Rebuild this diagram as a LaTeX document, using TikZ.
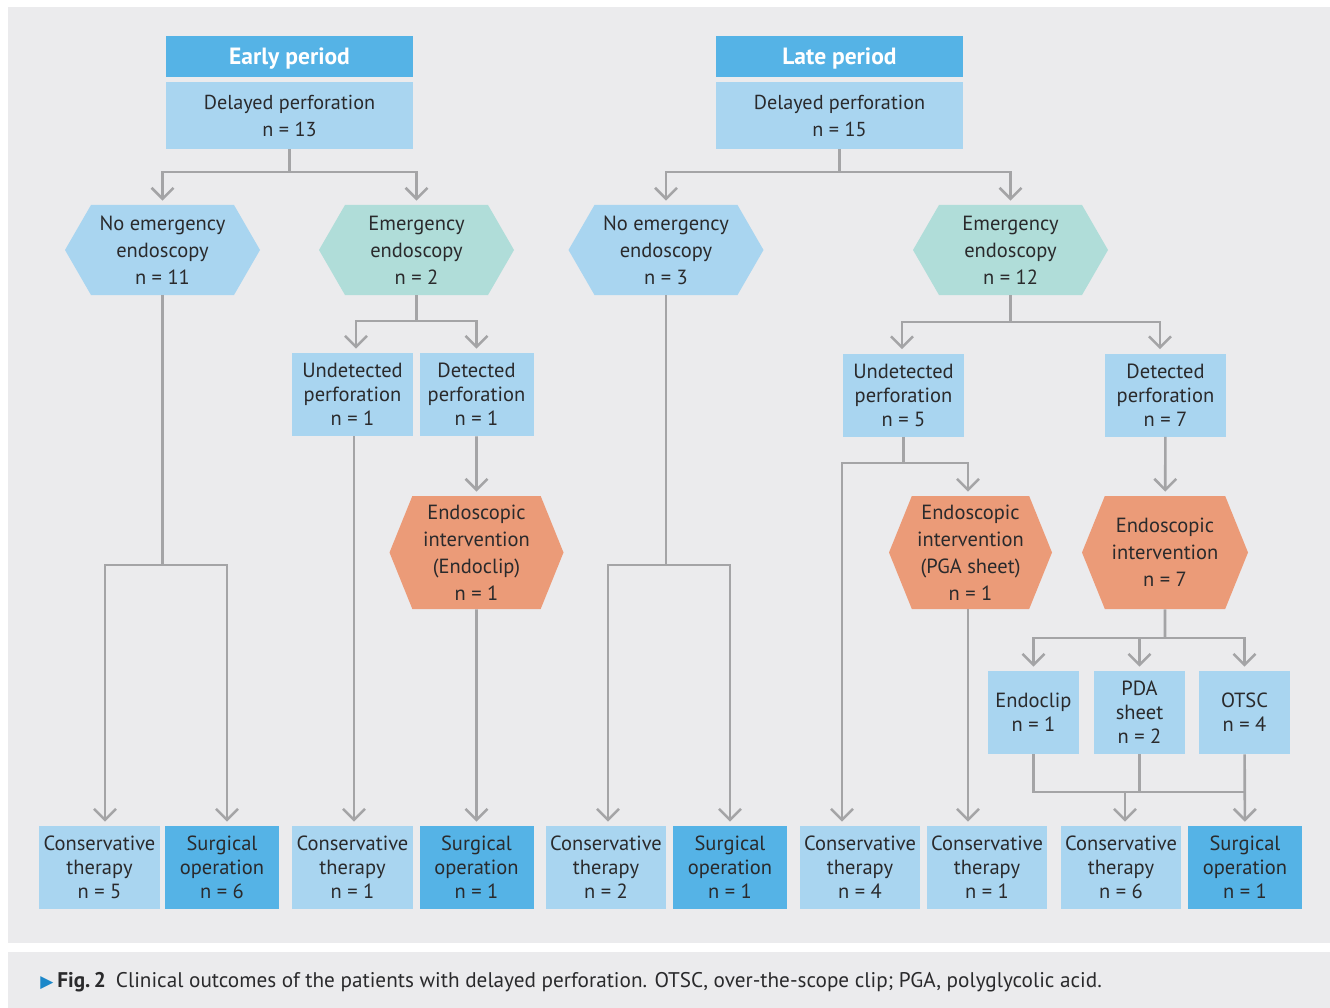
\documentclass[tikz,border=0pt]{standalone}
\usepackage{fontspec}
\setmainfont{PT Sans}
\newfontfamily\symfont{DejaVu Sans}
\usepackage{xcolor}
\usetikzlibrary{arrows.meta}
\usetikzlibrary{positioning}
\usetikzlibrary{shapes.symbols}

\definecolor{panelgrey}{HTML}{EBEBED}
\definecolor{hdrblue}{HTML}{55B3E6}
\definecolor{boxblue}{HTML}{A9D5F0}
\definecolor{hexgreen}{HTML}{B0DDD9}
\definecolor{hexorange}{HTML}{EB9B78}
\definecolor{linegrey}{HTML}{A4A4A6}
\definecolor{txtdark}{HTML}{2A2A2C}
\definecolor{capblue}{HTML}{1B87C9}

\begin{document}
\begin{tikzpicture}[x=1pt,y=-1pt,semithick]
 \tikzstyle{head node}=[rectangle,fill=hdrblue,text=white,inner sep=0,minimum width=247pt,minimum height=41pt,text height=20pt,text depth=4pt,font=\bfseries\fontsize{23.5}{26}\selectfont]
 \tikzstyle{top node}=[rectangle,fill=boxblue,text=txtdark,inner sep=0,align=center,minimum width=247pt,minimum height=67pt,font=\fontsize{20.2}{27}\selectfont]
 \tikzset{
 	box node/.style={rectangle,fill=boxblue,text=txtdark,inner sep=0,align=center,minimum width=121pt,minimum height=83pt,font=\fontsize{20.5}{24}\selectfont},
 	surg node/.style={box node,fill=hdrblue,minimum width=114pt},
 	small node/.style={box node,minimum width=91pt},
 	hex node/.style={signal,signal to=west and east,signal pointer angle=120,inner sep=0,align=center,text=txtdark,minimum width=195pt,minimum height=90pt,font=\fontsize{20.5}{27}\selectfont},
 	blue hex/.style={hex node,fill=boxblue},
 	green hex/.style={hex node,fill=hexgreen},
 	act hex/.style={hex node,fill=hexorange,signal pointer angle=136,minimum height=113pt},
 	seg/.style={draw=linegrey,line width=2.6pt},
 	arr/.style={seg,-{Straight Barb[length=11pt,width=22pt]},shorten >=4pt}
 }

       \useasboundingbox (0,0) rectangle (1330,1008);
       \fill[panelgrey] (8,7) rectangle (1330,943);
       \fill[panelgrey] (8,952) rectangle (1330,1008);

       \node[head node] (ep) at (289.5,57) {Early period};
       \node[top node] (dp1) at (289.5,115.5) {Delayed perforation\\n = 13};
       \node[head node] (lp) at (839.5,57) {Late period};
       \node[top node] (dp2) at (839.5,115.5) {Delayed perforation\\n = 15};

       \node[blue hex] (ne1) at (162.5,250) {No emergency\\endoscopy\\n = 11};
       \node[green hex] (em1) at (416.5,250) {Emergency\\endoscopy\\n = 2};
       \node[blue hex] (ne2) at (666,250) {No emergency\\endoscopy\\n = 3};
       \node[green hex] (em2) at (1010.5,250) {Emergency\\endoscopy\\n = 12};

       \node[box node] (ud1) at (352.5,394.5) {Undetected\\perforation\\n = 1};
       \node[box node,minimum width=114pt] (dt1) at (476.5,394.5) {Detected\\perforation\\n = 1};
       \node[box node] (ud2) at (903.5,395) {Undetected\\perforation\\n = 5};
       \node[box node] (dt2) at (1165.5,395) {Detected\\perforation\\n = 7};

       \node[act hex,minimum width=174pt] (ei1) at (476.5,552.5) {Endoscopic\\intervention\\(Endoclip)\\n = 1};
       \node[act hex,minimum width=163pt] (ei2) at (970.5,552.5) {Endoscopic\\intervention\\(PGA sheet)\\n = 1};
       \node[act hex,minimum width=166pt] (ei3) at (1165,552.5) {Endoscopic\\intervention\\n = 7};

       \node[small node] (en) at (1033.5,712.5) {Endoclip\\n = 1};
       \node[small node] (pda) at (1139.5,712.5) {PDA\\sheet\\n = 2};
       \node[small node] (ot) at (1244.5,712.5) {OTSC\\n = 4};

       \node[box node] (c1) at (99.5,867.5) {Conservative\\therapy\\n = 5};
       \node[surg node] (s2) at (222,867.5) {Surgical\\operation\\n = 6};
       \node[box node] (c3) at (352.5,867.5) {Conservative\\therapy\\n = 1};
       \node[surg node] (s4) at (476.5,867.5) {Surgical\\operation\\n = 1};
       \node[box node,minimum width=120pt] (c5) at (606,867.5) {Conservative\\therapy\\n = 2};
       \node[surg node] (s6) at (730,867.5) {Surgical\\operation\\n = 1};
       \node[box node,minimum width=120pt] (c7) at (860,867.5) {Conservative\\therapy\\n = 4};
       \node[box node,minimum width=120pt] (c8) at (987,867.5) {Conservative\\therapy\\n = 1};
       \node[box node,minimum width=120pt] (c9) at (1121,867.5) {Conservative\\therapy\\n = 6};
       \node[surg node] (s10) at (1245,867.5) {Surgical\\operation\\n = 1};

       \coordinate (j1) at (289.5,172);
       \coordinate (j2) at (839.5,172);
       \coordinate (j3) at (416.5,321);
       \coordinate (j4) at (162.5,565);
       \coordinate (j5) at (666,565);
       \coordinate (j6) at (1010.5,322);
       \coordinate (j7) at (903.5,463);
       \coordinate (j8) at (1165,638);
       \coordinate (k1) at (1033.5,792);
       \coordinate (k2) at (1245,792);

     \path[seg] (dp1) -- (j1);
     \path[arr] (j1) -| (ne1);
     \path[arr] (j1) -| (em1);
     \path[seg] (dp2) -- (j2);
     \path[arr] (j2) -| (ne2);
     \path[arr] (j2) -| (em2);

     \path[seg] (em1) -- (j3);
     \path[arr] (j3) -| ([xshift=3.5pt]ud1.north);
     \path[arr] (j3) -| (dt1);
     \path[arr] ([xshift=1.5pt]ud1.south) -- ([xshift=1.5pt]c3.north);
     \path[arr] (dt1) -- (ei1);
     \path[arr] (ei1) -- (s4);

     \path[seg] (ne1) -- (j4);
     \path[arr] (j4) -| ([xshift=5.5pt]c1.north);
     \path[arr] (j4) -| ([xshift=5pt]s2.north);
     \path[seg] (ne2) -- (j5);
     \path[arr] (j5) -| ([xshift=2pt]c5.north);
     \path[arr] (j5) -| (s6);

     \path[seg] (em2) -- (j6);
     \path[arr] (j6) -| ([xshift=-1.5pt]ud2.north);
     \path[arr] (j6) -| ([xshift=-5.5pt]dt2.north);
     \path[seg] (ud2) -- (j7);
     \path[arr] (j7) -| ([xshift=-18pt]c7.north);
     \path[arr] (j7) -| ([xshift=-2.5pt]ei2.north);
     \path[arr] ([xshift=-2.5pt]ei2.south) -- ([xshift=-19pt]c8.north);

     \path[arr] (dt2) -- (ei3);
     \path[seg] (ei3) -- (j8);
     \path[arr] (j8) -| (en);
     \path[arr] (j8) -| (pda);
     \path[arr] (j8) -| (ot);
     \path[seg] (en) -- (k1) -- (k2);
     \path[seg] (pda) -- (pda |- k1);
     \path[arr] ([xshift=4pt]c9.north |- k1) -- ([xshift=4pt]c9.north);
     \path[arr] (ot) -- (s10);

       \node[anchor=base west,inner sep=0,text=txtdark,font=\fontsize{21.2}{24}\selectfont] (cap) at (40,987)
       {{\symfont\fontsize{17}{24}\selectfont\color{capblue}▶}\hspace{4pt}\textbf{Fig.\,2}\hspace{10pt}Clinical outcomes of the patients with delayed perforation. OTSC, over-the-scope clip; PGA, polyglycolic acid.};
 \end{tikzpicture}
\end{document}
